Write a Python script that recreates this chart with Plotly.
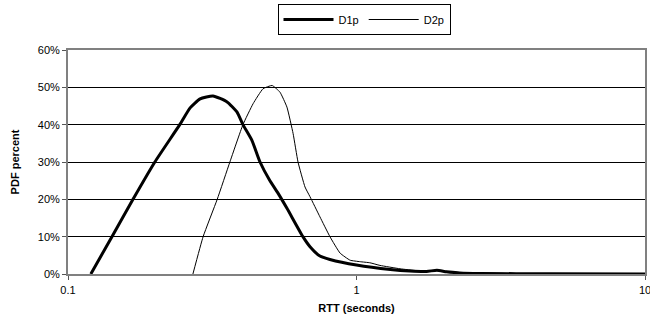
import plotly.graph_objects as go

# D1p series (RTT seconds, PDF percent)
d1_rtt = [0.12, 0.142, 0.168, 0.20, 0.244, 0.265, 0.287, 0.318, 0.356, 0.385, 0.404,
          0.434, 0.463, 0.50, 0.535, 0.574, 0.652, 0.69, 0.747, 0.809, 1.0, 1.31,
          1.53, 1.75, 1.90, 2.05, 2.28, 2.68, 4.7, 10.0]
d1_pdf = [0.0, 10.0, 20.0, 30.0, 40.0, 44.5, 46.9, 47.7, 46.1, 43.4, 40.0,
          35.8, 30.0, 25.1, 21.6, 17.6, 10.0, 7.3, 4.8, 3.9, 2.4, 1.2,
          0.8, 0.7, 1.0, 0.6, 0.3, 0.15, 0.05, 0.0]

# D2p series
d2_rtt = [0.271, 0.294, 0.329, 0.364, 0.404, 0.438, 0.474, 0.51, 0.543, 0.574,
          0.603, 0.627, 0.663, 0.69, 0.747, 0.809, 0.877, 0.95, 1.028, 1.114,
          1.206, 1.415, 1.621, 1.90, 2.28, 2.68, 3.5, 4.7, 10.0]
d2_pdf = [0.0, 10.0, 20.0, 30.0, 40.0, 45.6, 49.6, 50.5, 48.7, 44.7,
          37.6, 30.0, 23.3, 20.7, 15.3, 10.0, 5.6, 3.7, 3.3, 3.0,
          2.3, 1.4, 0.9, 0.9, 0.4, 0.3, 0.1, 0.05, 0.0]

x_ticks = [0.1, 1, 10]
x_tick_labels = ["0.1", "1", "10"]
y_ticks = [0, 0.1, 0.2, 0.3, 0.4, 0.5, 0.6]

font = "Liberation Sans, Arial, sans-serif"

fig = go.Figure()
fig.add_trace(go.Scatter(x=d1_rtt, y=[v / 100 for v in d1_pdf], name="D1p", mode="lines",
                         line=dict(color="black", width=3, shape="spline", smoothing=0.5)))
fig.add_trace(go.Scatter(x=d2_rtt, y=[v / 100 for v in d2_pdf], name="D2p", mode="lines",
                         line=dict(color="black", width=1, shape="spline", smoothing=0.4)))

fig.update_layout(
    width=650, height=316,
    margin=dict(l=68, r=5, t=50, b=42, autoexpand=False),
    paper_bgcolor="white", plot_bgcolor="white",
    font=dict(family=font, size=11, color="black"),
    showlegend=True,
    legend=dict(orientation="h", xref="container", x=364 / 650, xanchor="center",
                yref="container", y=1 - 4 / 316, yanchor="top",
                bordercolor="black", borderwidth=1, bgcolor="white",
                font=dict(size=11), itemwidth=50, tracegroupgap=0),
    xaxis=dict(type="log", range=[-1, 1], tickvals=x_ticks, ticktext=x_tick_labels,
               ticks="outside", ticklen=4, tickcolor="#555555", automargin=False,
               ticklabelstandoff=1, ticklabeloverflow="allow",
               showgrid=False, showline=True, linecolor="#808080", linewidth=2, mirror=True,
               title=dict(text="<b>RTT (seconds)</b>", font=dict(size=11), standoff=9),
               zeroline=False),
    yaxis=dict(range=[0, 0.6], tickvals=y_ticks, tickformat=".0%", automargin=False,
               ticks="outside", ticklen=4, tickcolor="#555555",
               showgrid=True, gridcolor="black", gridwidth=1,
               showline=True, linecolor="#808080", linewidth=2, mirror=True,
               title=dict(text="<b>PDF percent</b>", font=dict(size=11), standoff=16),
               zeroline=False),
)

fig.write_html("out.html", config={"displayModeBar": False},
               post_script="document.body.style.margin='0';")
